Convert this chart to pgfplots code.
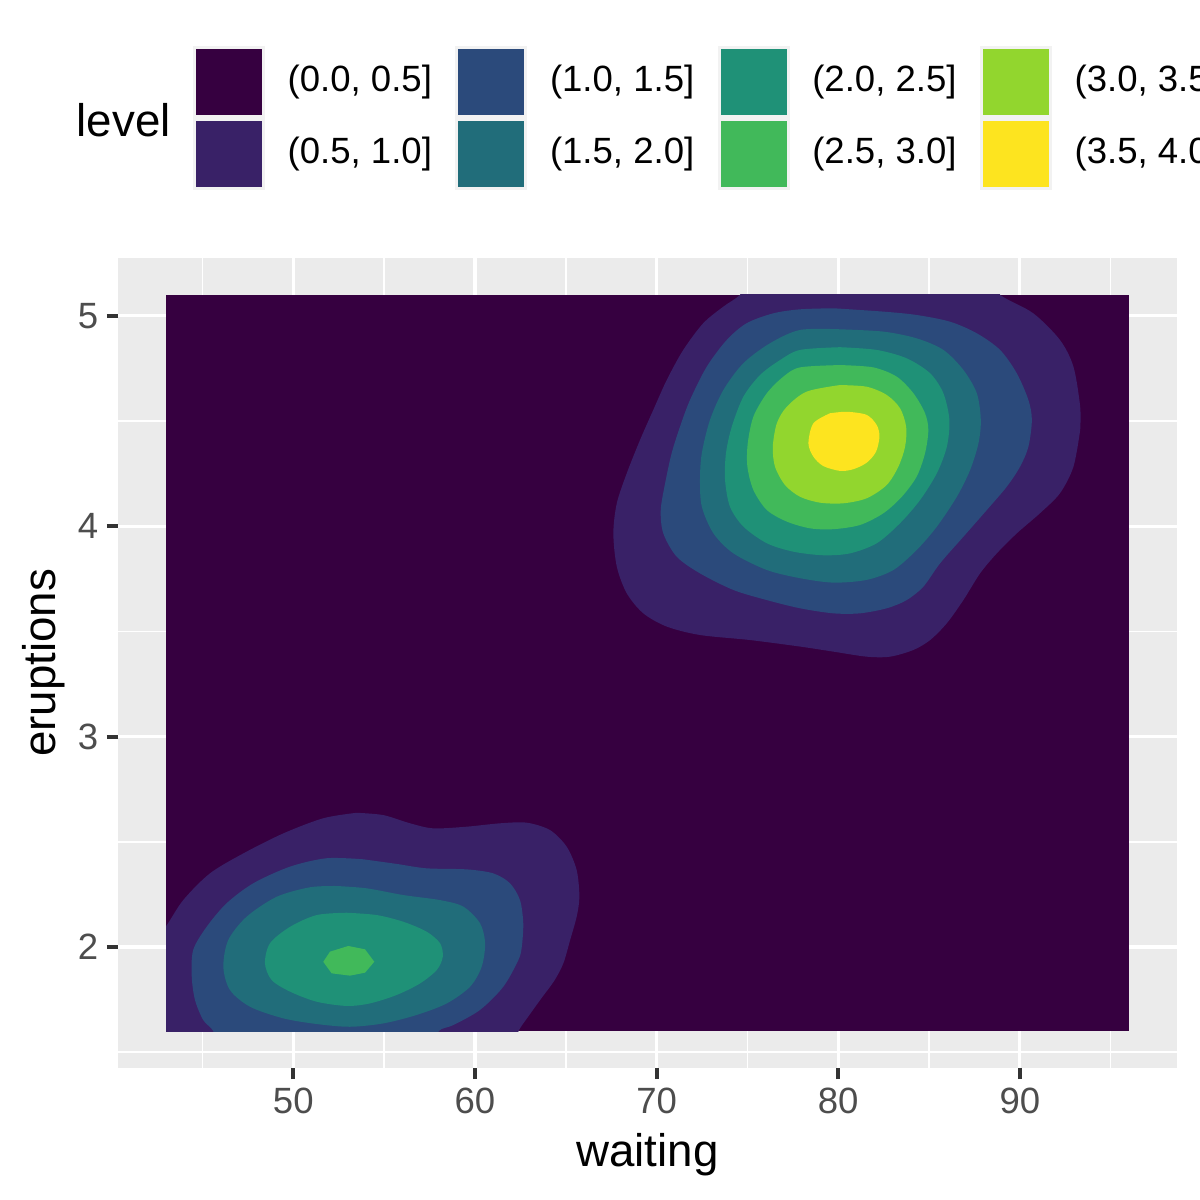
\documentclass[border=0pt]{standalone}
\usepackage{pgfplots}
\pgfplotsset{compat=1.18}
\usepackage{fontspec}
\setmainfont{Liberation Sans}
\definecolor{cA}{RGB}{54,0,64}
\definecolor{cB}{RGB}{57,33,103}
\definecolor{cC}{RGB}{43,74,123}
\definecolor{cD}{RGB}{33,109,122}
\definecolor{cE}{RGB}{31,145,119}
\definecolor{cF}{RGB}{65,185,90}
\definecolor{cG}{RGB}{146,214,46}
\definecolor{cH}{RGB}{253,228,31}
\definecolor{panelbg}{RGB}{235,235,235}
\definecolor{keybg}{RGB}{242,242,242}
\definecolor{tickgray}{RGB}{51,51,51}
\definecolor{labelgray}{RGB}{77,77,77}
\begin{document}
\begin{tikzpicture}
\path[use as bounding box] (0mm,0mm) rectangle (120mm,120mm);
\fill[white] (0mm,0mm) rectangle (120mm,120mm);
\begin{axis}[
  at={(11.8mm,13.2mm)}, anchor=south west,
  scale only axis, width=105.9mm, height=81mm,
  xmin=40.35, xmax=98.65, ymin=1.425, ymax=5.275,
  axis background/.style={fill=panelbg},
  axis line style={draw=none},
  xtick={50,60,70,80,90}, ytick={2,3,4,5},
  minor xtick={45,55,65,75,85,95}, minor ytick={1.5,2.5,3.5,4.5},
  grid=both,
  major grid style={draw=white, line width=0.32mm},
  minor grid style={draw=white, line width=0.16mm},
  tick align=outside, xtick pos=left, ytick pos=left,
  major tick length=1.1mm, minor tick length=0pt,
  tick style={draw=tickgray, line width=0.4mm},
  tick label style={font=\fontsize{10.4}{12}\selectfont, text=labelgray},
  /pgf/number format/assume math mode=true,
  xticklabel style={inner sep=0pt, yshift=-0.8mm},
  yticklabel style={inner sep=0pt, xshift=-0.8mm},
  xlabel={waiting}, ylabel={eruptions},
  every axis x label/.style={at={(axis description cs:0.5,0)}, anchor=base, yshift=-9.8mm, font=\fontsize{13}{15}\selectfont},
  every axis y label/.style={at={(axis description cs:0,0.5)}, xshift=-6.2mm, rotate=90, anchor=base, font=\fontsize{13}{15}\selectfont},
]
% level (0.0, 0.5]: whole estimation grid
\addplot[fill=cA, draw=none] coordinates {(43,1.6) (96,1.6) (96,5.1) (43,5.1)} -- cycle;
\begin{scope}
\clip (axis cs:43,1.6) rectangle (axis cs:96,5.1);
% ---- upper cluster ----
\addplot[fill=cB, draw=none, smooth] coordinates {
(93.32,4.457)(92.95,4.283)(92.21,4.157)(91.11,4.062)(89.83,3.966)(88.73,3.871)(87.81,3.776)(86.89,3.649)(85.98,3.539)(85.06,3.459)(84.14,3.412)(82.85,3.380)(81.57,3.380)(79.73,3.404)(77.90,3.428)(75.15,3.459)(72.39,3.483)(70.56,3.523)(69.27,3.586)(68.36,3.681)(67.81,3.808)(67.62,3.966)(67.81,4.109)(68.36,4.252)(69.09,4.410)(69.82,4.553)(70.56,4.695)(71.47,4.838)(72.57,4.965)(73.68,5.044)(74.60,5.1)(75.6,5.2)(88.0,5.2)(88.91,5.1)(90.74,5.012)(92.21,4.885)(92.95,4.758)(93.32,4.568)(93.32,4.457)};
\addplot[fill=cC, draw=none, smooth] coordinates {
(79.73,5.036)(82.49,5.020)(84.32,5.004)(86.16,4.972)(87.63,4.917)(88.91,4.838)(89.83,4.727)(90.47,4.600)(90.66,4.505)(90.47,4.378)(90.01,4.283)(89.28,4.188)(88.18,4.077)(86.89,3.950)(85.61,3.824)(84.69,3.713)(83.77,3.649)(82.67,3.610)(81.20,3.586)(79.73,3.586)(77.90,3.610)(76.07,3.649)(74.23,3.697)(72.39,3.776)(71.11,3.855)(70.37,3.966)(70.23,4.077)(70.47,4.204)(70.83,4.347)(71.29,4.473)(71.84,4.600)(72.76,4.758)(73.86,4.885)(74.96,4.965)(76.43,5.012)(77.90,5.031)(79.73,5.036)};
\addplot[fill=cD, draw=none, smooth] coordinates {
(80.10,4.936)(82.49,4.925)(84.32,4.893)(85.79,4.838)(86.89,4.743)(87.63,4.632)(87.85,4.505)(87.72,4.394)(87.26,4.267)(86.53,4.140)(85.43,3.998)(84.32,3.887)(83.04,3.792)(81.57,3.745)(79.73,3.732)(77.90,3.753)(76.07,3.792)(74.23,3.871)(73.13,3.966)(72.49,4.093)(72.39,4.220)(72.49,4.347)(72.94,4.505)(73.68,4.648)(74.78,4.775)(76.25,4.870)(77.90,4.933)(80.10,4.936)};
\addplot[fill=cE, draw=none, smooth] coordinates {
(80.10,4.851)(82.12,4.838)(83.77,4.798)(85.06,4.727)(85.79,4.632)(86.12,4.505)(85.98,4.378)(85.43,4.252)(84.51,4.125)(83.40,4.014)(82.12,3.919)(80.65,3.871)(79.18,3.862)(77.53,3.879)(76.07,3.919)(74.78,3.998)(74.04,4.093)(73.77,4.220)(73.82,4.347)(74.14,4.473)(74.78,4.616)(75.70,4.719)(76.80,4.790)(77.90,4.838)(80.10,4.851)};
\addplot[fill=cF, draw=none, smooth] coordinates {
(80.10,4.766)(81.93,4.755)(83.22,4.711)(84.14,4.632)(84.78,4.537)(84.96,4.457)(84.78,4.347)(84.32,4.236)(83.50,4.140)(82.49,4.062)(81.20,4.006)(79.73,3.986)(78.45,3.990)(77.17,4.022)(76.07,4.077)(75.33,4.172)(75.00,4.283)(75.02,4.394)(75.33,4.521)(76.07,4.632)(76.98,4.711)(77.90,4.755)(80.10,4.766)};
\addplot[fill=cG, draw=none, smooth] coordinates {
(80.10,4.671)(81.57,4.663)(82.67,4.624)(83.40,4.561)(83.74,4.473)(83.68,4.378)(83.31,4.283)(82.67,4.196)(81.57,4.133)(80.28,4.109)(79.00,4.112)(77.90,4.140)(77.07,4.196)(76.52,4.283)(76.40,4.378)(76.62,4.489)(77.17,4.568)(78.27,4.640)(80.10,4.671)};
\addplot[fill=cH, draw=none, smooth] coordinates {
(79.55,4.537)(80.47,4.544)(81.57,4.529)(82.12,4.481)(82.27,4.426)(82.08,4.354)(81.57,4.302)(80.83,4.271)(80.10,4.263)(79.18,4.286)(78.63,4.331)(78.36,4.394)(78.63,4.489)(79.55,4.537)};
% ---- lower cluster ----
\addplot[fill=cB, draw=none, smooth] coordinates {
(53.49,2.638)(54.96,2.627)(56.43,2.588)(57.71,2.564)(59.55,2.572)(61.38,2.588)(62.85,2.591)(64.13,2.556)(65.05,2.477)(65.60,2.366)(65.75,2.239)(65.60,2.144)(65.24,2.033)(64.87,1.923)(64.37,1.84)(63.69,1.76)(62.94,1.67)(62.39,1.6)(61.9,1.5)(42.0,1.5)(42.0,2.0)(42.97,2.096)(43.94,2.223)(45.41,2.350)(47.25,2.445)(49.45,2.540)(51.65,2.612)(53.49,2.638)};
\addplot[fill=cC, draw=none, smooth] coordinates {
(53.85,2.417)(55.69,2.395)(57.34,2.374)(59.55,2.369)(61.01,2.350)(61.93,2.303)(62.48,2.223)(62.66,2.113)(62.58,2.001)(62.39,1.938)(61.56,1.811)(60.28,1.701)(58.81,1.629)(58.0,1.6)(57.5,1.5)(46.0,1.5)(45.60,1.6)(45.04,1.653)(44.59,1.748)(44.41,1.859)(44.49,1.986)(45.23,2.096)(46.33,2.208)(47.80,2.303)(49.82,2.382)(51.84,2.422)(53.85,2.417)};
\addplot[fill=cD, draw=none, smooth] coordinates {
(52.39,2.290)(54.04,2.279)(56.06,2.247)(58.08,2.223)(59.36,2.192)(60.28,2.113)(60.56,2.018)(60.37,1.906)(59.73,1.811)(58.45,1.732)(56.79,1.677)(54.96,1.637)(53.12,1.621)(51.29,1.634)(49.45,1.661)(47.62,1.716)(46.51,1.796)(46.15,1.906)(46.42,2.033)(47.43,2.144)(49.09,2.239)(50.92,2.284)(52.39,2.290)};
\addplot[fill=cE, draw=none, smooth] coordinates {
(52.94,2.163)(54.59,2.152)(56.06,2.120)(57.34,2.073)(58.08,2.018)(58.23,1.954)(57.90,1.891)(56.98,1.827)(55.69,1.772)(54.22,1.732)(52.94,1.720)(51.29,1.740)(49.82,1.788)(48.81,1.843)(48.44,1.923)(48.72,2.018)(49.82,2.096)(51.29,2.152)(52.94,2.163)};
\addplot[fill=cF, draw=none] coordinates {
(51.65,1.930)(52.02,1.978)(53.03,2.005)(53.95,1.989)(54.46,1.930)(53.95,1.878)(53.12,1.864)(52.11,1.875)} -- cycle;
\end{scope}
\end{axis}
% ---- legend ----
\node[anchor=west, inner sep=0pt, font=\fontsize{13}{15}\selectfont] at (7.6mm,108.0mm) {level};
\foreach \i/\ca/\cb/\la/\lb in {0/cA/cB/{(0.0, 0.5]}/{(0.5, 1.0]}, 1/cC/cD/{(1.0, 1.5]}/{(1.5, 2.0]}, 2/cE/cF/{(2.0, 2.5]}/{(2.5, 3.0]}, 3/cG/cH/{(3.0, 3.5]}/{(3.5, 4.0]}}{
  \pgfmathsetmacro{\xo}{26.23*\i}
  \fill[keybg] ({19.3mm+\xo mm},101.0mm) rectangle ({26.5mm+\xo mm},115.4mm);
  \fill[\ca] ({19.6mm+\xo mm},108.5mm) rectangle ({26.2mm+\xo mm},115.1mm);
  \fill[\cb] ({19.6mm+\xo mm},101.3mm) rectangle ({26.2mm+\xo mm},107.9mm);
  \node[anchor=west, inner sep=0pt, font=\fontsize{10.4}{12}\selectfont] at ({28.7mm+\xo mm},111.8mm) {\la};
  \node[anchor=west, inner sep=0pt, font=\fontsize{10.4}{12}\selectfont] at ({28.7mm+\xo mm},104.6mm) {\lb};
}
\end{tikzpicture}
\end{document}
